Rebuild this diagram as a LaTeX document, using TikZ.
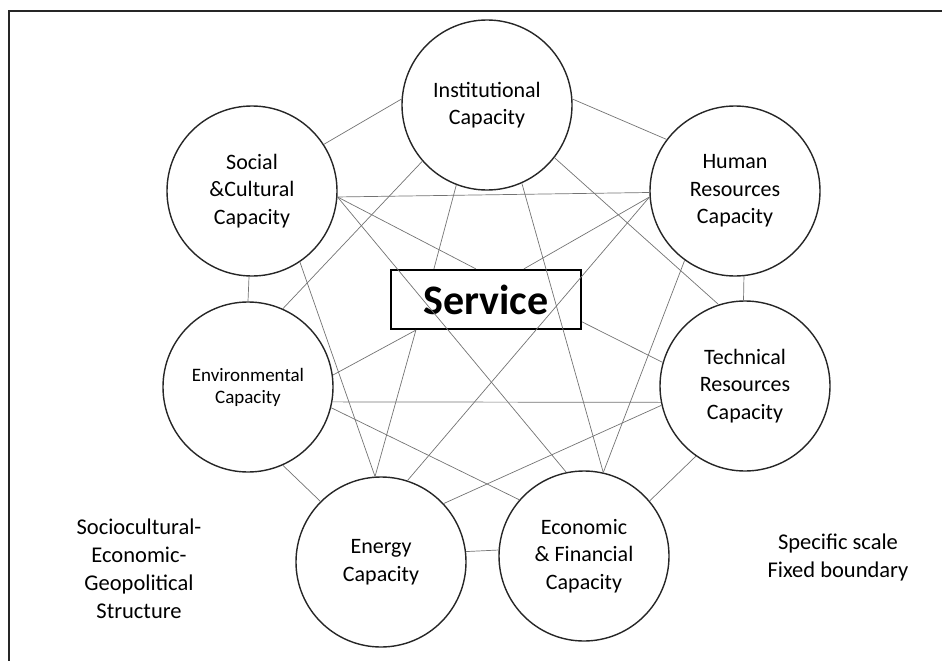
\documentclass[tikz,border=0pt]{standalone}
\usepackage{fontspec}
\setmainfont{Carlito}
\usetikzlibrary{calc}
\begin{document}
\begin{tikzpicture}[x=1pt,y=-1pt,
  capnode/.style={circle,draw=black!85,line width=1.4pt,minimum size=170pt,inner sep=0pt,align=center,font=\fontsize{22}{27.5}\selectfont},
  link/.style={draw=black!55,line width=0.7pt},
  lbl/.style={align=center,font=\fontsize{22.5}{28}\selectfont},
  framestyle/.style={draw=black!85,line width=2pt},
  svcbox/.style={draw=black,line width=2.2pt,minimum width=190pt,minimum height=59pt,inner sep=0pt,font=\fontsize{42}{42}\selectfont\bfseries}]
\useasboundingbox (0,0) rectangle (942,661);
% frame
\coordinate (fr0) at (9,661);
\coordinate (fr1) at (9,11);
\coordinate (fr2) at (942,11);
\draw[framestyle] (fr0) -- (fr1) -- (fr2);
% capacities
\node[capnode] (I) at (487,105) {Institutional\\Capacity};
\node[capnode] (H) at (735,191) {Human\\Resources\\Capacity};
\node[capnode] (T) at (745,386) {Technical\\Resources\\Capacity};
\node[capnode] (E) at (584,556) {Economic\\\& Financial\\Capacity};
\node[capnode] (N) at (381,562) {Energy\\Capacity};
\node[capnode,font=\fontsize{19}{22}\selectfont] (V) at (248,387) {Environmental\\Capacity};
\node[capnode] (S) at (252,191) {Social\\\&Cultural\\Capacity};
\node[svcbox] (svc) at (486,299.5) {Service};
% labels
\node[lbl] (geo) at (139,569) {Sociocultural-\\Economic-\\Geopolitical\\Structure};
\node[lbl] (scale) at (838,557) {Specific scale\\Fixed boundary};
% outer ring
\draw[link] (S.33.9) -- (I.176.6);
\draw[link] (I.4.7) -- (H.143.1);
\draw[link] (H.-84.6) -- (T.91.4);
\draw[link] (T.235.2) -- (E.40.3);
\draw[link] (E.176.6) -- (N.7.4);
\draw[link] (N.135) -- (V.-66.9);
\draw[link] (V.90) -- (S.-92.7);
% diagonals
\draw[link] (S.-4) -- (H.181.3);
\draw[link] (S.-4) -- (E.102.7);
\draw[link] (S.-56.3) -- (N.94);
\draw[link] (I.221.3) -- (V.66.2);
\draw[link] (I.-66) -- (E.77.3);
\draw[link] (I.-38.8) -- (T.108.6);
\draw[link] (H.184.7) -- (N.72.4);
\draw[link] (H.234.1) -- (E.77.3);
\draw[link] (V.-10.8) -- (T.191.6);
\draw[link] (V.-14.4) -- (E.139.7);
\draw[link] (N.43.2) -- (T.193);
% links to service
\draw[link] (S.-4) -- ($(svc.north west)+(86,0)$);
\draw[link] (I.249.4) -- ($(svc.north west)+(44,0)$);
\draw[link] (H.184.7) -- ($(svc.north west)+(134,0)$);
\draw[link] (T.164.5) -- ($(svc.north east)+(0,53)$);
\draw[link] (V.8) -- ($(svc.south west)+(26,0)$);
\draw[link] (N.94) -- ($(svc.south west)+(26,0)$);
\end{tikzpicture}
\end{document}
